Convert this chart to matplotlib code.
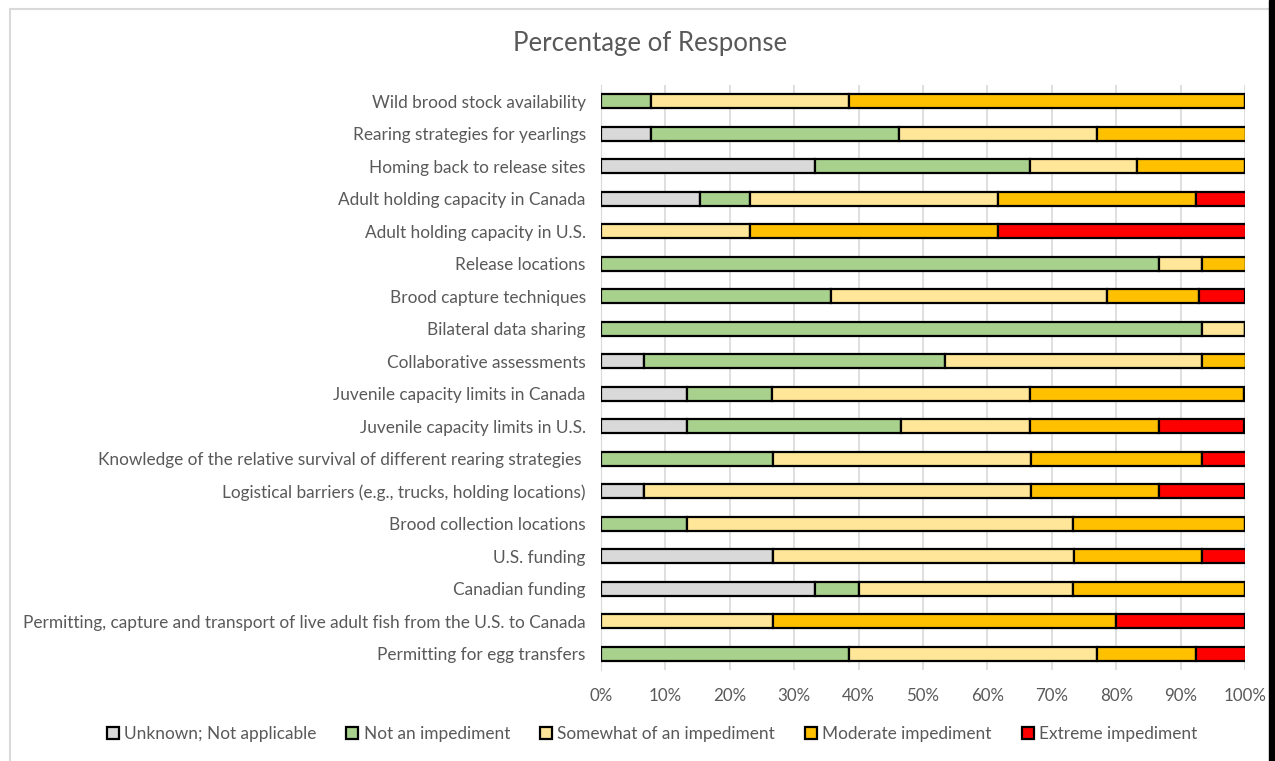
import matplotlib.pyplot as plt
import matplotlib.patches as mpatches
import numpy as np

plt.rcParams['font.family'] = ['Lato', 'DejaVu Sans']

# Survey items, listed top to bottom
items = [
    'Wild brood stock availability',
    'Rearing strategies for yearlings',
    'Homing back to release sites',
    'Adult holding capacity in Canada',
    'Adult holding capacity in U.S.',
    'Release locations',
    'Brood capture techniques',
    'Bilateral data sharing',
    'Collaborative assessments',
    'Juvenile capacity limits in Canada',
    'Juvenile capacity limits in U.S.',
    'Knowledge of the relative survival of different rearing strategies ',
    'Logistical barriers (e.g., trucks, holding locations)',
    'Brood collection locations',
    'U.S. funding',
    'Canadian funding',
    'Permitting, capture and transport of live adult fish from the U.S. to Canada',
    'Permitting for egg transfers',
]

categories = ['Unknown; Not applicable', 'Not an impediment',
              'Somewhat of an impediment', 'Moderate impediment',
              'Extreme impediment']

# Share of responses (%) per item, same order as items
unknown = [0, 7.7, 33.3, 15.4, 0, 0, 0, 0, 6.7, 13.3, 13.3, 0, 6.7, 0, 26.7, 33.3, 0, 0]
not_imp = [7.7, 38.5, 33.3, 7.7, 0, 86.7, 35.7, 93.3, 46.7, 13.3, 33.3, 26.7, 0, 13.3, 0, 6.7, 0, 38.5]
somewhat = [30.8, 30.8, 16.7, 38.5, 23.1, 6.7, 42.9, 6.7, 40.0, 40.0, 20.0, 40.0, 60.0, 60.0, 46.7, 33.3, 26.7, 38.5]
moderate = [61.5, 23.1, 16.7, 30.8, 38.5, 6.7, 14.3, 0, 6.7, 33.3, 20.0, 26.7, 20.0, 26.7, 20.0, 26.7, 53.3, 15.4]
extreme = [0, 0, 0, 7.7, 38.5, 0, 7.1, 0, 0, 0, 13.3, 6.7, 13.3, 0, 6.7, 0, 20.0, 7.7]

series = [unknown, not_imp, somewhat, moderate, extreme]
colors = ['#D9D9D9', '#A9D18E', '#FFE699', '#FFC000', '#FF0000']
text_color = '#595959'

fig = plt.figure(figsize=(12.75, 7.61), dpi=100)
ax = fig.add_axes([601 / 1275, 1 - 670 / 761, 644 / 1275, 585 / 761])

y = np.arange(len(items))
left = np.zeros(len(items))
for vals, col, name in zip(series, colors, categories):
    vals = np.array(vals, dtype=float)
    ax.barh(y, vals, left=left, height=0.44, color=col, edgecolor='black',
            linewidth=1.6, label=name, zorder=3)
    left += vals

ax.set_xlim(0, 100)
ax.set_ylim(len(items) - 0.5, -0.5)
ax.set_yticks(y)
ax.set_yticklabels(items, fontsize=12.4, color=text_color)
ax.set_xticks(np.arange(0, 101, 10))
ax.set_xticklabels([f'{v}%' for v in range(0, 101, 10)], fontsize=12.2, color=text_color)
ax.tick_params(length=0, axis='both')
ax.tick_params(axis='y', pad=11)
ax.tick_params(axis='x', pad=13)
ax.grid(axis='x', color='#D9D9D9', linewidth=1.2, zorder=0)
for s in ['top', 'right', 'bottom']:
    ax.spines[s].set_visible(False)
ax.spines['left'].set_color('#D9D9D9')
ax.spines['left'].set_zorder(1)

fig.text(650 / 1275, 1 - 44 / 761, 'Percentage of Response', ha='center', va='center',
         fontsize=18.5, color=text_color)

handles = [mpatches.Patch(facecolor=c, edgecolor='black', linewidth=1.6, label=n)
           for c, n in zip(colors, categories)]
fig.legend(handles=handles, loc='center', bbox_to_anchor=(652 / 1275, 1 - 734 / 761),
           ncol=5, frameon=False, fontsize=12.4, labelcolor=text_color,
           handlelength=0.7, handleheight=0.7, handletextpad=0.3, columnspacing=1.75)

# chart frame
fig.add_artist(mpatches.Rectangle((10 / 1275, -0.05), 1.2, 1 - 9 / 761 + 0.05,
                                  transform=fig.transFigure, fill=False,
                                  edgecolor='#D9D9D9', linewidth=1.5))
fig.add_artist(mpatches.Rectangle((1269 / 1275, 0), 6 / 1275, 1,
                                  transform=fig.transFigure, color='black'))

fig.savefig('out.png', dpi=100)
